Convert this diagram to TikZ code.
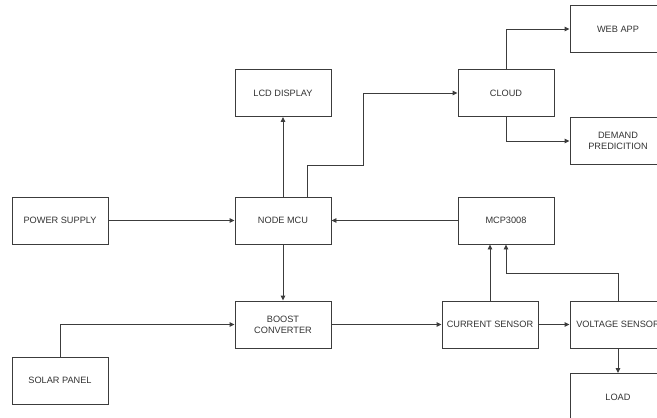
\documentclass[tikz,border=0pt]{standalone}
\usepackage{fontspec}
\setmainfont{Liberation Sans}
\usetikzlibrary{arrows.meta}
\definecolor{linegray}{HTML}{3C3C3C}
\definecolor{textgray}{HTML}{333333}
\begin{document}
\begin{tikzpicture}[x=1pt,y=-1pt,
  blk/.style={draw=linegray,line width=0.9pt,rectangle,minimum width=96pt,minimum height=47pt,
    align=center,font=\fontsize{9.2}{11}\selectfont,text=textgray,inner sep=1pt},
  arr/.style={draw=linegray,line width=0.9pt,-{Triangle[length=5pt,width=4.5pt]}}]
\useasboundingbox (0,0) rectangle (657,418);
\clip (0,0) rectangle (657,418);
\fill[white] (0,0) rectangle (657,418);
\node[blk] (ps) at (60,220.5) {POWER SUPPLY};
\node[blk] (mcu) at (283,220.5) {NODE MCU};
\node[blk] (boost) at (283,324.5) {BOOST\\CONVERTER};
\node[blk] (solar) at (60,380.5) {SOLAR PANEL};
\node[blk] (lcd) at (283,93) {LCD DISPLAY};
\node[blk] (cloud) at (506,93) {CLOUD};
\node[blk] (web) at (618,29) {WEB APP};
\node[blk] (demand) at (618,141) {DEMAND\\PREDICITION};
\node[blk] (mcp) at (506,220.5) {MCP3008};
\node[blk] (cur) at (490,324.5) {CURRENT SENSOR};
\node[blk] (volt) at (618,324.5) {VOLTAGE SENSOR};
\node[blk] (load) at (618,397) {LOAD};
\coordinate (c1) at (363,165);
\coordinate (vm) at (506,273);
\draw[arr] (ps.east) -- (mcu.west);
\draw[arr] (mcu.north) -- (lcd.south);
\draw[arr] ([xshift=24pt]mcu.north) |- (c1) |- (cloud.west);
\draw[arr] (cloud.north) |- (web.west);
\draw[arr] (cloud.south) |- (demand.west);
\draw[arr] (mcp.west) -- (mcu.east);
\draw[arr] (mcu.south) -- (boost.north);
\draw[arr] (solar.north) |- (boost.west);
\draw[arr] (boost.east) -- (cur.west);
\draw[arr] (cur.east) -- (volt.west);
\draw[arr] (cur.north) -- (cur.north |- mcp.south);
\draw[arr] (volt.north) |- (vm) -- (mcp.south);
\draw[arr] (volt.south) -- (load.north);
\end{tikzpicture}
\end{document}
